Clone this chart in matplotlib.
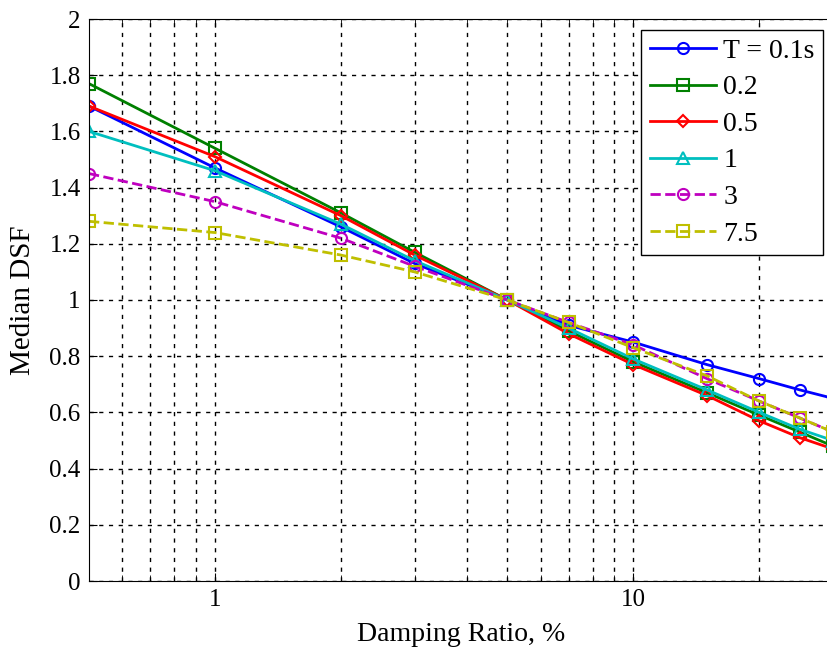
import numpy as np
import matplotlib.pyplot as plt
from matplotlib.ticker import FixedLocator, NullFormatter, FixedFormatter

damping = [0.5, 1, 2, 3, 5, 7, 10, 15, 20, 25, 30]
labels = ['T = 0.1s', '0.2', '0.5', '1', '3', '7.5']
dsf_01 = [1.69, 1.47, 1.26, 1.13, 1.00, 0.91, 0.85, 0.77, 0.72, 0.68, 0.65]
dsf_02 = [1.77, 1.54, 1.31, 1.17, 1.00, 0.89, 0.78, 0.67, 0.59, 0.53, 0.48]
dsf_05 = [1.69, 1.51, 1.30, 1.16, 1.00, 0.88, 0.77, 0.66, 0.57, 0.51, 0.47]
dsf_1 = [1.60, 1.46, 1.27, 1.14, 1.00, 0.90, 0.79, 0.68, 0.60, 0.54, 0.50]
dsf_3 = [1.45, 1.35, 1.22, 1.12, 1.00, 0.92, 0.84, 0.72, 0.64, 0.58, 0.53]
dsf_75 = [1.28, 1.24, 1.16, 1.10, 1.00, 0.92, 0.83, 0.73, 0.64, 0.58, 0.53]

series = [dsf_01, dsf_02, dsf_05, dsf_1, dsf_3, dsf_75]
colors = ['#0000ff', '#008000', '#ff0000', '#00bfbf', '#bf00bf', '#bfbf00']
markers = ['o', 's', 'D', '^', 'o', 's']
styles = ['-', '-', '-', '-', '--', '--']

plt.rcParams['font.family'] = 'Liberation Serif'

fig = plt.figure(figsize=(8.28, 6.56), dpi=100)
# right spine sits just past the edge of the picture, like the cropped original
ax = fig.add_axes([89/828, 75/656, 744/828, 562/656])

for y, c, m, ls, lab in zip(series, colors, markers, styles, labels):
    ms = 6.5 if m == 'D' else 8
    ax.plot(damping, y, color=c, marker=m, ls=ls, lw=2, ms=ms,
            mfc='none', mec=c, mew=1.5, label=lab)

ax.set_xscale('log')
ax.set_xlim(0.5, 30)
ax.set_ylim(0, 2)
ax.xaxis.set_major_locator(FixedLocator([1, 10]))
ax.xaxis.set_major_formatter(FixedFormatter(['1', '10']))
minors = [0.6, 0.7, 0.8, 0.9, 2, 3, 4, 5, 6, 7, 8, 9, 20]
ax.xaxis.set_minor_locator(FixedLocator(minors))
ax.xaxis.set_minor_formatter(NullFormatter())
yt = np.arange(0, 2.01, 0.2)
ax.set_yticks(yt)
ax.set_yticklabels(['0', '0.2', '0.4', '0.6', '0.8', '1', '1.2', '1.4', '1.6', '1.8', '2'])
ax.tick_params(which='both', direction='in', labelsize=18, top=True, right=False, pad=6)
ax.tick_params(which='major', length=6)
ax.tick_params(which='minor', length=4)
ax.grid(True, which='both', color='k', ls=(0, (3, 4)), lw=1)

ax.set_xlabel('Damping Ratio, %', fontsize=20, labelpad=8)
ax.set_ylabel('Median DSF', fontsize=21, labelpad=10)

leg = ax.legend(loc='upper right', bbox_to_anchor=(823/828, 1 - 30/656),
                bbox_transform=fig.transFigure, fontsize=20, fancybox=False,
                edgecolor='k', framealpha=1, handlelength=2.4,
                labelspacing=0.4, borderaxespad=0, handletextpad=0.25,
                borderpad=0.3)
leg.get_frame().set_linewidth(1)

fig.savefig('out.png', dpi=100)
